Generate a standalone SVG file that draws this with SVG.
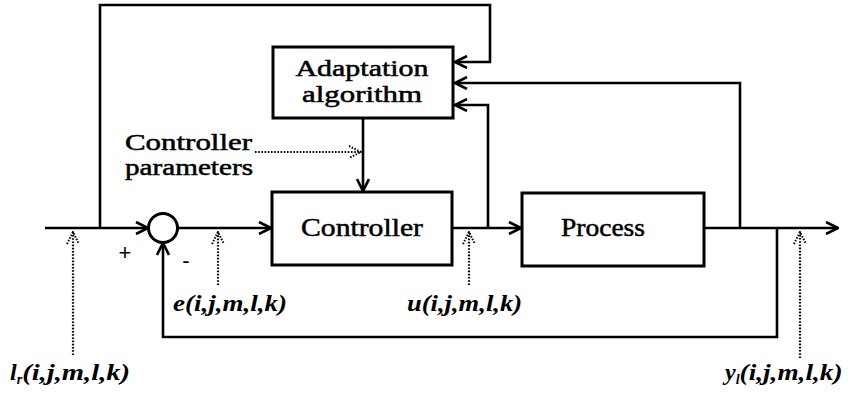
<svg xmlns="http://www.w3.org/2000/svg" width="850" height="403" viewBox="0 0 850 403">
<style>
.box{fill:#fff;stroke:#000;stroke-width:3}
.ln{fill:none;stroke:#000;stroke-width:2.6;stroke-linejoin:miter}
.dot{fill:none;stroke:#000;stroke-width:2.2;stroke-dasharray:1.6 1.6}
.t{font-family:"Liberation Serif","DejaVu Serif",serif;font-size:26px;fill:#000;stroke:#000;stroke-width:0.5}
.t2{font-family:"Liberation Serif","DejaVu Serif",serif;font-size:22.5px;fill:#000;stroke:#000;stroke-width:0.5}
.lab{font-family:"Liberation Serif","DejaVu Serif",serif;font-size:24px;font-style:italic;font-weight:bold;fill:#000}
.sub{font-size:14px}
.sign{font-family:"Liberation Sans","DejaVu Sans",sans-serif;font-size:22px;fill:#000}
</style>
<defs>
<marker id="arr" viewBox="0 0 14 14" refX="13" refY="7" markerWidth="14" markerHeight="14" markerUnits="userSpaceOnUse" orient="auto">
<path d="M1,1 L13,7 L1,13" fill="none" stroke="#000" stroke-width="2.6"/>
</marker>
<marker id="darr" viewBox="0 0 14 14" refX="13" refY="7" markerWidth="14" markerHeight="14" markerUnits="userSpaceOnUse" orient="auto">
<path d="M1,1 L13,7 L1,13" fill="none" stroke="#000" stroke-width="2" stroke-dasharray="1.5 1.5"/>
</marker>
</defs>

<g id="connectors">
<path class="ln" d="M45,228 L148,228" marker-end="url(#arr)"/>
<path class="ln" d="M100,228 L100,5 L490,5 L490,62 L455,62" marker-end="url(#arr)"/>
<path class="ln" d="M177,228 L271,228" marker-end="url(#arr)"/>
<path class="ln" d="M452,228 L521,228" marker-end="url(#arr)"/>
<path class="ln" d="M488,228 L488,105 L455,105" marker-end="url(#arr)"/>
<path class="ln" d="M704,228 L838,228" marker-end="url(#arr)"/>
<path class="ln" d="M740,228 L740,83 L455,83" marker-end="url(#arr)"/>
<path class="ln" d="M777,228 L777,337 L163,337 L163,243" marker-end="url(#arr)"/>
<path class="ln" d="M363,118 L363,191" marker-end="url(#arr)"/>
<path class="dot" d="M255,152 L361,152" marker-end="url(#darr)"/>
<path class="dot" d="M73,355 L73,232" marker-end="url(#darr)"/>
<path class="dot" d="M218,285 L218,232" marker-end="url(#darr)"/>
<path class="dot" d="M469,285 L469,232" marker-end="url(#darr)"/>
<path class="dot" d="M800,358 L800,232" marker-end="url(#darr)"/>
</g>

<g id="sum">
<circle cx="163" cy="228" r="14.5" fill="#fff" stroke="#000" stroke-width="3"/>
<text class="sign" x="125" y="260" text-anchor="middle">+</text>
<text class="sign" x="186" y="268" text-anchor="middle">-</text>
</g>

<g id="adaptation">
<rect class="box" x="273" y="47" width="180" height="71"/>
<text class="t2" x="362" y="76" text-anchor="middle" textLength="133" lengthAdjust="spacingAndGlyphs">Adaptation</text>
<text class="t2" x="362" y="102" text-anchor="middle" textLength="120" lengthAdjust="spacingAndGlyphs">algorithm</text>
</g>

<g id="controller">
<rect class="box" x="272" y="192" width="180" height="73"/>
<text class="t" x="362" y="236" text-anchor="middle" textLength="122" lengthAdjust="spacingAndGlyphs">Controller</text>
</g>

<g id="process">
<rect class="box" x="522" y="193" width="182" height="73"/>
<text class="t" x="603" y="236" text-anchor="middle" textLength="84" lengthAdjust="spacingAndGlyphs">Process</text>
</g>

<g id="params-label">
<text class="t2" x="125" y="150" textLength="127" lengthAdjust="spacingAndGlyphs">Controller</text>
<text class="t2" x="125" y="175" textLength="128" lengthAdjust="spacingAndGlyphs">parameters</text>
</g>

<g id="labels">
<text class="lab" x="173" y="311" textLength="114" lengthAdjust="spacingAndGlyphs">e(i,j,m,l,k)</text>
<text class="lab" x="407" y="311" textLength="115" lengthAdjust="spacingAndGlyphs">u(i,j,m,l,k)</text>
<text class="lab" x="10" y="380">l<tspan class="sub" dy="4">r</tspan><tspan dy="-4" textLength="108" lengthAdjust="spacingAndGlyphs">(i,j,m,l,k)</tspan></text>
<text class="lab" x="725" y="380">y<tspan class="sub" dy="4">l</tspan><tspan dy="-4" textLength="103" lengthAdjust="spacingAndGlyphs">(i,j,m,l,k)</tspan></text>
</g>
</svg>
